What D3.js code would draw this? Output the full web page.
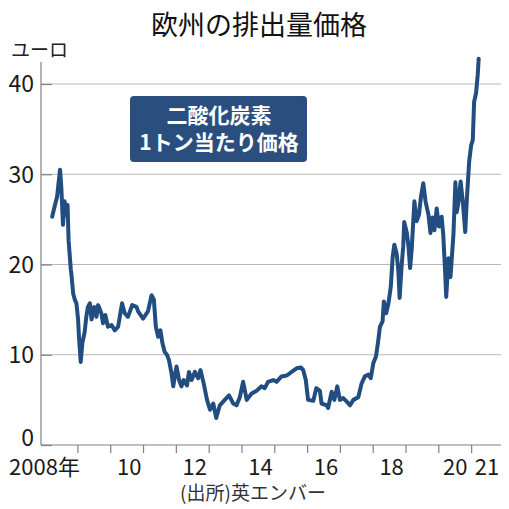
<!DOCTYPE html>
<html>
<head>
<meta charset="utf-8">
<script src="https://cdn.jsdelivr.net/npm/d3@7"></script>
<style>
  body { margin: 0; background: #fff; }
</style>
</head>
<body>
<div id="chart"></div>
<script>
// EUA price, decimal year -> euro per tonne
const dates = [
  2008.23, 2008.29, 2008.38, 2008.47, 2008.51, 2008.56, 2008.61, 2008.66, 2008.70, 2008.73,
  2008.80, 2008.82, 2008.87, 2008.92, 2008.97, 2009.02, 2009.05, 2009.10, 2009.15, 2009.22,
  2009.27, 2009.32, 2009.38, 2009.43, 2009.51, 2009.58, 2009.63, 2009.73, 2009.78, 2009.85,
  2009.93, 2010.04, 2010.14, 2010.24, 2010.36, 2010.44, 2010.54, 2010.67, 2010.80, 2010.85,
  2011.00, 2011.15, 2011.26, 2011.33, 2011.39, 2011.46, 2011.53, 2011.59, 2011.66, 2011.73,
  2011.79, 2011.87, 2011.92, 2012.02, 2012.10, 2012.17, 2012.24, 2012.34, 2012.40, 2012.48,
  2012.58, 2012.68, 2012.75, 2012.85, 2012.95, 2013.04, 2013.14, 2013.23, 2013.34, 2013.49,
  2013.62, 2013.75, 2013.85, 2013.95, 2014.05, 2014.16, 2014.31, 2014.46, 2014.61, 2014.71,
  2014.81, 2014.97, 2015.07, 2015.22, 2015.38, 2015.53, 2015.68, 2015.81, 2015.88, 2015.96,
  2016.03, 2016.19, 2016.28, 2016.39, 2016.44, 2016.60, 2016.64, 2016.75, 2016.83, 2016.92,
  2017.00, 2017.10, 2017.21, 2017.31, 2017.41, 2017.56, 2017.66, 2017.76, 2017.87, 2017.94,
  2018.02, 2018.10, 2018.17, 2018.22, 2018.30, 2018.34, 2018.41, 2018.48, 2018.55, 2018.61,
  2018.66, 2018.73, 2018.78, 2018.82, 2018.88, 2018.93, 2018.96, 2019.04, 2019.09, 2019.14,
  2019.19, 2019.27, 2019.34, 2019.41, 2019.47, 2019.54, 2019.61, 2019.70, 2019.76, 2019.82,
  2019.88, 2019.95, 2020.02, 2020.10, 2020.15, 2020.21, 2020.24, 2020.31, 2020.37, 2020.46,
  2020.52, 2020.56, 2020.61, 2020.68, 2020.75, 2020.82, 2020.87, 2020.94, 2021.00, 2021.05,
  2021.09, 2021.15, 2021.20, 2021.23
];
const prices = [
  25.3, 26.2, 27.5, 30.5, 28.5, 24.4, 27.0, 25.5, 26.6, 22.7,
  19.4, 18.8, 16.8, 16.1, 15.7, 13.9, 11.8, 9.2, 11.3, 12.5,
  14.2, 15.3, 15.7, 13.9, 15.3, 14.2, 15.5, 14.6, 13.5, 14.4,
  13.1, 13.3, 12.7, 13.1, 15.7, 14.6, 14.2, 15.5, 15.3, 14.8,
  14.0, 14.8, 16.6, 16.1, 13.1, 12.0, 12.7, 11.3, 10.3, 10.0,
  9.4, 7.9, 6.5, 8.7, 7.2, 6.5, 7.2, 6.6, 8.1, 7.2,
  8.1, 7.4, 8.3, 6.8, 5.0, 3.9, 4.6, 3.0, 4.4, 5.0,
  5.5, 4.6, 4.4, 5.3, 7.0, 5.0, 5.7, 6.0, 6.5, 6.3,
  7.0, 7.2, 7.0, 7.6, 7.7, 8.1, 8.5, 8.6, 8.3, 7.2,
  5.0, 4.9, 6.3, 6.0, 4.6, 4.4, 4.1, 5.9, 5.0, 6.5,
  5.0, 5.2, 4.8, 4.4, 5.0, 5.3, 6.8, 7.6, 7.8, 7.4,
  9.1, 9.8, 11.6, 13.1, 13.7, 15.9, 14.6, 15.7, 17.5, 20.9,
  22.2, 21.2, 19.4, 16.3, 19.8, 22.0, 24.7, 23.5, 22.0, 19.6,
  21.8, 27.0, 24.8, 25.5, 27.5, 29.0, 27.0, 25.5, 23.5, 25.2,
  23.8, 26.2, 24.2, 25.3, 23.3, 19.0, 16.4, 20.7, 18.6, 23.3,
  29.1, 25.8, 26.8, 29.2, 26.8, 23.6, 27.3, 31.4, 33.2, 33.8,
  38.0, 39.0, 41.0, 42.8
];

const yTicks = [0, 10, 20, 30, 40];
const yearMarks = d3.range(2009, 2022);          // tick marks at year boundaries
const labelYears = [2008, 2010, 2012, 2014, 2016, 2018, 2020, 2021];
const labelText = ["2008年", "10", "12", "14", "16", "18", "20", "21"];

const title = "欧州の排出量価格";
const unitLabel = "ユーロ";
const boxLines = ["二酸化炭素", "1トン当たり価格"];
const source = "(出所)英エンバー";

const W = 509, H = 509;
const numFont = "'Liberation Sans Narrow', 'Arial Narrow', 'Noto Sans CJK JP', sans-serif";
const jpFont = "'Noto Sans CJK JP', 'Noto Sans', sans-serif";

const svg = d3.select("#chart").append("svg")
  .attr("width", W)
  .attr("height", H)
  .style("background", "#fff");

// scales
const x = d3.scaleLinear()
  .domain([2007.89, 2021.91])
  .range([41, 501]);
const y = d3.scaleLinear()
  .domain([0, 40])
  .range([445, 84]);

// gridlines
svg.append("g")
  .selectAll("line")
  .data(yTicks.filter(d => d > 0))
  .enter()
  .append("line")
    .attr("x1", 41)
    .attr("x2", 501)
    .attr("y1", d => y(d))
    .attr("y2", d => y(d))
    .attr("stroke", "#b9b9b9")
    .attr("stroke-width", 1.2);

// y axis: short inner ticks, labels on the left
const yAxis = svg.append("g")
  .attr("transform", "translate(41,0)")
  .call(d3.axisRight(y).tickValues(yTicks).tickSize(11).tickFormat(""));
yAxis.select(".domain").remove();
yAxis.selectAll(".tick line").attr("stroke", "#808080").attr("stroke-width", 1.2);

svg.append("line")
  .attr("x1", 41).attr("x2", 41)
  .attr("y1", 62).attr("y2", y(0))
  .attr("stroke", "#808080")
  .attr("stroke-width", 1.2);

svg.append("g")
  .selectAll("text")
  .data(yTicks)
  .enter()
  .append("text")
    .attr("x", 34)
    .attr("y", d => d === 0 ? y(d) - 7 : y(d))
    .attr("dy", "0.36em")
    .attr("text-anchor", "end")
    .style("font-family", numFont)
    .style("font-size", "23px")
    .style("fill", "#1a1a1a")
    .text(d => d);

// x axis: year boundary marks
const xMarks = svg.append("g")
  .attr("transform", "translate(0," + y(0) + ")")
  .call(d3.axisBottom(x).tickValues(yearMarks).tickSize(8).tickFormat(""));
xMarks.select(".domain").remove();
xMarks.selectAll(".tick line").attr("stroke", "#808080").attr("stroke-width", 1.2);

svg.append("line")
  .attr("x1", 41).attr("x2", 501)
  .attr("y1", y(0)).attr("y2", y(0))
  .attr("stroke", "#808080")
  .attr("stroke-width", 1.2);

// x axis labels, centred in each year
const xLabels = svg.append("g")
  .attr("transform", "translate(0," + y(0) + ")")
  .call(d3.axisBottom(x)
    .tickValues(labelYears.map(d => d + 0.5))
    .tickSize(0)
    .tickFormat((d, i) => labelText[i]));
xLabels.select(".domain").remove();
xLabels.selectAll("text")
  .attr("y", 30)
  .attr("dy", 0)
  .attr("dx", 2)
  .style("font-family", numFont)
  .style("font-size", "22px")
  .style("fill", "#1a1a1a");
// first label hangs left of the 2009 mark, last two squeezed together
xLabels.selectAll("text").filter((d, i) => i === 0)
  .attr("text-anchor", "end")
  .attr("x", x(2009) - x(2008.5));
xLabels.selectAll("text").filter((d, i) => i === labelYears.length - 2).attr("dx", 0);
xLabels.selectAll("text").filter((d, i) => i === labelYears.length - 1).attr("dx", -1);

// price line
const line = d3.line()
  .x((d, i) => x(dates[i]))
  .y(d => y(d));

svg.append("path")
  .datum(prices)
  .attr("d", line)
  .attr("fill", "none")
  .attr("stroke", "#214d80")
  .attr("stroke-width", 4)
  .attr("stroke-linejoin", "round")
  .attr("stroke-linecap", "round");

// title and unit
svg.append("text")
  .attr("x", 259)
  .attr("y", 35)
  .attr("text-anchor", "middle")
  .style("font-family", jpFont)
  .style("font-size", "27px")
  .style("fill", "#111")
  .text(title);

svg.append("text")
  .attr("x", 11)
  .attr("y", 57)
  .style("font-family", jpFont)
  .style("font-size", "19px")
  .style("fill", "#222")
  .text(unitLabel);

// label box
const box = svg.append("g");
box.append("rect")
  .attr("x", 130)
  .attr("y", 96)
  .attr("width", 177)
  .attr("height", 66)
  .attr("rx", 4)
  .attr("fill", "#2a4f7f");
box.selectAll("text")
  .data(boxLines)
  .enter()
  .append("text")
    .attr("x", 219)
    .attr("y", (d, i) => 123 + i * 27)
    .attr("text-anchor", "middle")
    .style("font-family", jpFont)
    .style("font-weight", "bold")
    .style("font-size", "21px")
    .style("fill", "#fff")
    .text(d => d);

// source
svg.append("text")
  .attr("x", 253)
  .attr("y", 500)
  .attr("text-anchor", "middle")
  .style("font-family", jpFont)
  .style("font-size", "19px")
  .style("fill", "#333")
  .text(source);
</script>
</body>
</html>
